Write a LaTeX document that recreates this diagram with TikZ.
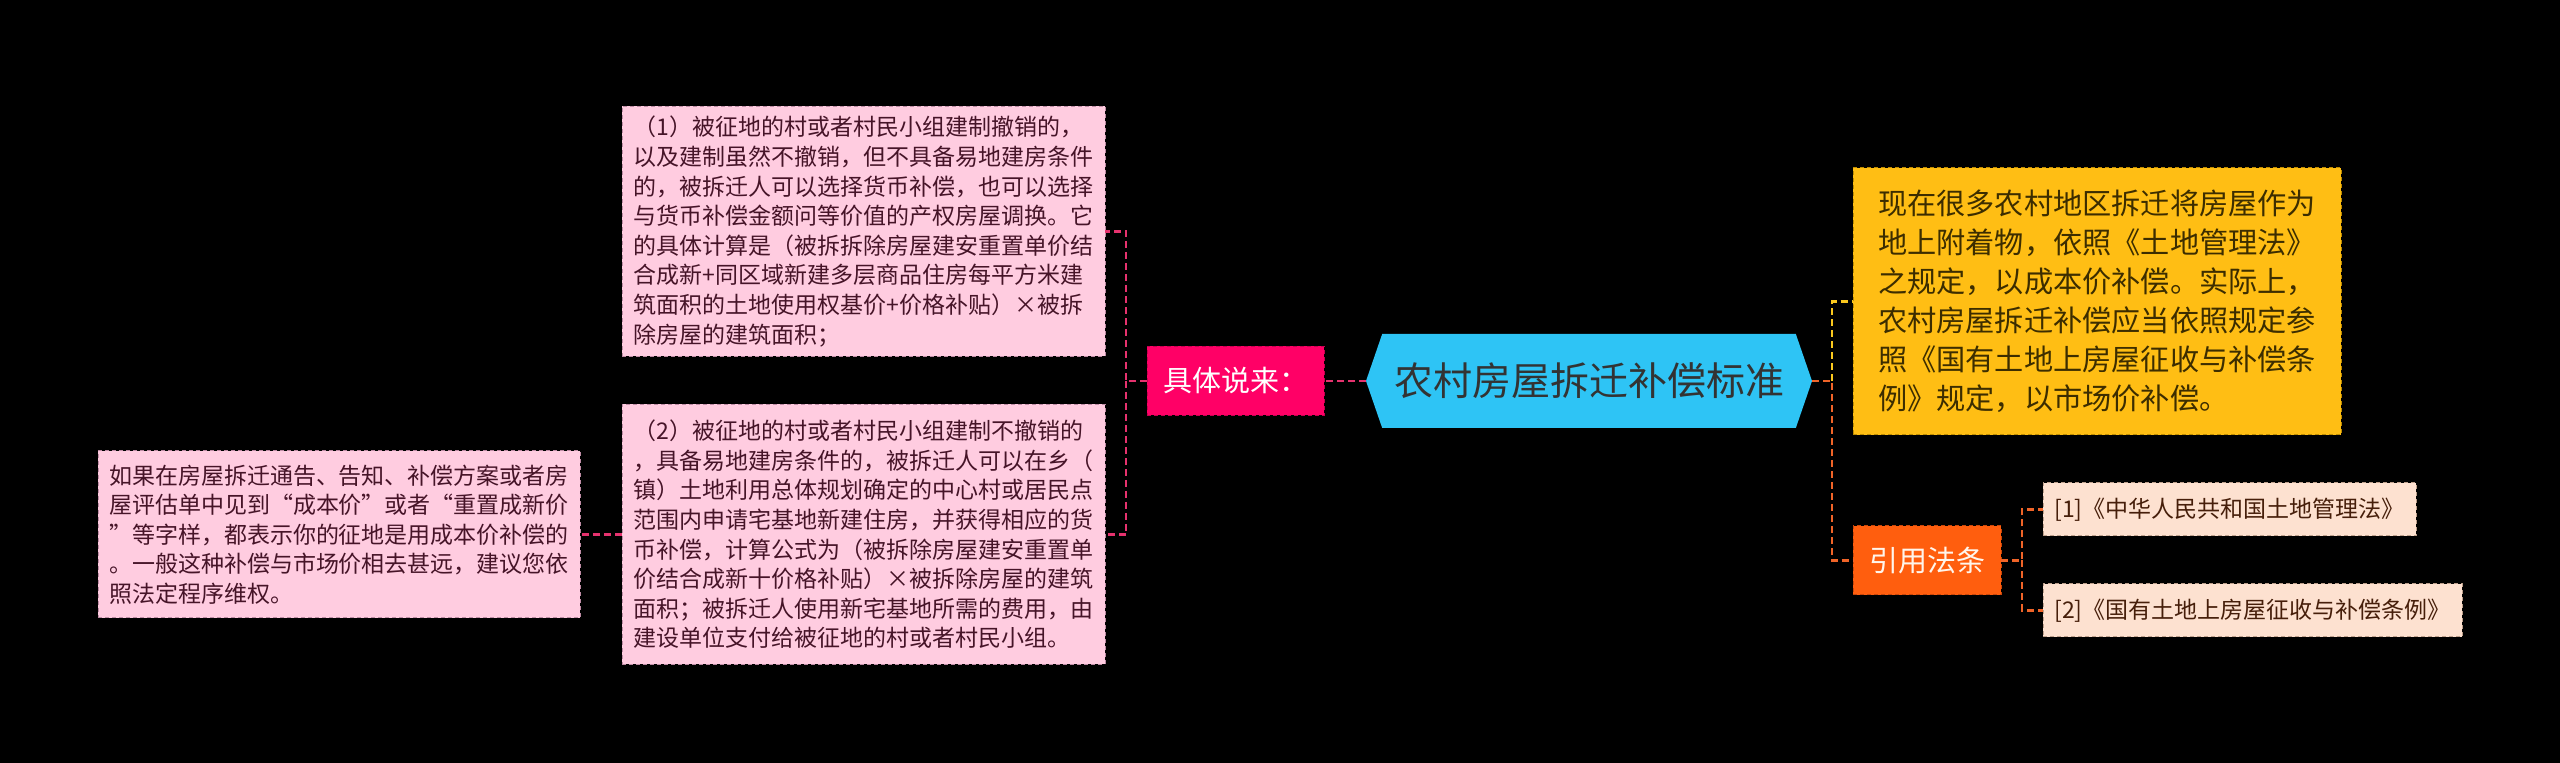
\documentclass[tikz,border=0pt]{standalone}
\usepackage{fontspec}
\setmainfont{Noto Sans CJK SC}
\usepackage{tikz}
\usetikzlibrary{positioning,calc,shapes.symbols}
\definecolor{hubc}{RGB}{46,196,245}
\definecolor{pnkf}{RGB}{255,204,224}
\definecolor{pnke}{RGB}{190,140,165}
\definecolor{pnkt}{RGB}{70,20,40}
\definecolor{magf}{RGB}{255,0,102}
\definecolor{mage}{RGB}{200,0,80}
\definecolor{ylwf}{RGB}{255,190,20}
\definecolor{ylwe}{RGB}{190,140,0}
\definecolor{ylwt}{RGB}{60,45,0}
\definecolor{orgf}{RGB}{255,94,14}
\definecolor{orge}{RGB}{200,70,10}
\definecolor{reff}{RGB}{253,225,208}
\definecolor{refe}{RGB}{190,160,140}
\definecolor{reft}{RGB}{70,30,10}
\definecolor{plnc}{RGB}{230,50,110}
\definecolor{olnc}{RGB}{240,100,40}
\definecolor{ylnc}{RGB}{250,200,30}

\begin{document}
\begin{tikzpicture}[node distance=21pt,every node/.style={outer sep=0pt},
  hub/.style={signal,signal to=west and east,signal pointer angle=142,fill=hubc,text={black!80},
    minimum width=223pt,minimum height=47pt,font=\fontsize{19.5pt}{22pt}\selectfont},
  tip/.style={draw,dash pattern=on 2pt off 1.5pt,line width=0.5pt,text=white,inner xsep=8pt,
    minimum height=34.5pt,font=\fontsize{14.5pt}{17pt}\selectfont},
  pnk/.style={draw=pnke,fill=pnkf,text=pnkt,dash pattern=on 2pt off 1.5pt,line width=0.5pt,
    align=left,minimum width=241.5pt,font=\fontsize{11.5pt}{14.8pt}\selectfont},
  ylw/.style={draw=ylwe,fill=ylwf,text=ylwt,dash pattern=on 2pt off 1.5pt,line width=0.5pt,
    align=left,minimum width=244pt,minimum height=133.5pt,font=\fontsize{14.6pt}{19.5pt}\selectfont},
  refs/.style={draw=refe,fill=reff,text=reft,dash pattern=on 2pt off 1.5pt,line width=0.5pt,
    minimum height=26.5pt,font=\fontsize{11.5pt}{14pt}\selectfont},
  pln/.style={draw=plnc,line width=1.3pt,dash pattern=on 3.5pt off 2pt},
  oln/.style={draw=olnc,line width=1.3pt,dash pattern=on 3.5pt off 2pt},
  yln/.style={draw=ylnc,line width=1.3pt,dash pattern=on 3.5pt off 2pt}]
  \fill[black] (0,0) rectangle (1280pt,-381.5pt);
  \useasboundingbox (0,0) rectangle (1280pt,-381.5pt);
  % centre and the left branch
  \node[hub] (hub) at (794.5pt,-190.5pt) {农村房屋拆迁补偿标准};
  \node[tip,fill=magf,draw=mage,left=of hub] (say) {具体说来：};
  \node[pnk,minimum height=125pt,left=of say,yshift=74.75pt] (d1) {（1）被征地的村或者村民小组建制撤销的，\\以及建制虽然不撤销，但不具备易地建房条件\\的，被拆迁人可以选择货币补偿，也可以选择\\与货币补偿金额问等价值的产权房屋调换。它\\的具体计算是（被拆拆除房屋建安重置单价结\\合成新+同区域新建多层商品住房每平方米建\\筑面积的土地使用权基价+价格补贴）×被拆\\除房屋的建筑面积；};
  \node[pnk,minimum height=130pt,left=of say,yshift=-76.75pt] (d2) {（2）被征地的村或者村民小组建制不撤销的\\，具备易地建房条件的，被拆迁人可以在乡（\\镇）土地利用总体规划确定的中心村或居民点\\范围内申请宅基地新建住房，并获得相应的货\\币补偿，计算公式为（被拆除房屋建安重置单\\价结合成新十价格补贴）×被拆除房屋的建筑\\面积；被拆迁人使用新宅基地所需的费用，由\\建设单位支付给被征地的村或者村民小组。};
  \node[pnk,minimum width=241pt,minimum height=83.5pt,left=of d2] (note) {如果在房屋拆迁通告、告知、补偿方案或者房\\屋评估单中见到“成本价”或者“重置成新价\\”等字样，都表示你的征地是用成本价补偿的\\。一般这种补偿与市场价相去甚远，建议您依\\照法定程序维权。};
  % right branch
  \node[ylw,right=20.5pt of hub,yshift=39.75pt] (now) {现在很多农村地区拆迁将房屋作为\\地上附着物，依照《土地管理法》\\之规定，以成本价补偿。实际上，\\农村房屋拆迁补偿应当依照规定参\\照《国有土地上房屋征收与补偿条\\例》规定，以市场价补偿。};
  \node[tip,fill=orgf,draw=orge,text={white!92!orange},right=20.5pt of hub,yshift=-89.75pt] (law) {引用法条};
  \node[refs,minimum width=186.5pt,right=of law,yshift=25.5pt] (r1) {[1]《中华人民共和国土地管理法》};
  \node[refs,minimum width=209.5pt,right=of law,yshift=-25pt] (r2) {[2]《国有土地上房屋征收与补偿条例》};
  % connectors
  \coordinate[left=10.5pt of say] (sj);
  \draw[pln] (hub.west) -- (say.east);
  \draw[pln] (say.west) -- (sj) |- (d1.east);
  \draw[pln] (sj) |- (d2.east);
  \draw[pln] (d2.west) -- (note.east);
  \coordinate[right=10pt of hub] (hj);
  \draw[oln] (hub.east) -- (hj) |- (law.west);
  \draw[yln] (hj) |- (now.west);
  \coordinate[right=10.5pt of law] (lj);
  \draw[oln] (law.east) -- (lj) |- (r1.west);
  \draw[oln] (lj) |- (r2.west);
\end{tikzpicture}
\end{document}
